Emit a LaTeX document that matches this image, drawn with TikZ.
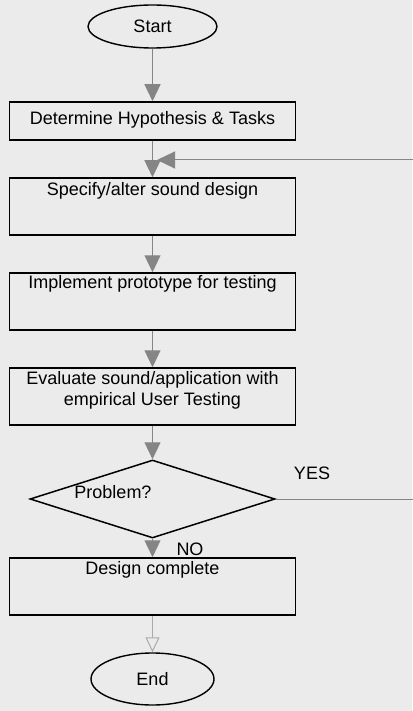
\documentclass[tikz,border=0pt]{standalone}
\usepackage{fontspec}
\setmainfont{Liberation Sans}
\usetikzlibrary{arrows.meta,shapes.geometric}
\definecolor{paper}{HTML}{EBEBEB}
\definecolor{flow}{HTML}{858585}
\begin{document}
\begin{tikzpicture}[x=1pt,y=-1pt,
  font=\fontsize{18}{21}\selectfont,
  box/.style={draw=black,line width=1.5pt,fill=paper,minimum width=286pt,inner sep=0pt},
  term/.style={ellipse,draw=black,line width=1.4pt,fill=paper,inner sep=0pt},
  decision/.style={diamond,draw=black,line width=1.5pt,fill=paper,inner sep=0pt,
    minimum width=245pt,minimum height=78pt,aspect=3.14},
  lbl/.style={inner sep=0pt,align=center},
  flowarrow/.style={draw=flow,line width=1.2pt,
    -{Triangle[width=16pt,length=17pt,fill=flow]}},
  lastarrow/.style={draw=flow!70,line width=1pt,
    -{Triangle[open,width=14pt,length=15pt,fill=paper]}}]

% page
\useasboundingbox (0,0) rectangle (412,711);
\fill[paper] (0,0) rectangle (412,711);

% terminals
\node[term,minimum width=129pt,minimum height=43pt] (start) at (152.5,26.5) {Start};
\node[term,minimum width=123pt,minimum height=52pt] (end) at (152.5,679) {End};

% process boxes
\node[box,minimum height=38pt] (hyp) at (152.5,121) {};
\node[lbl] (hypT) at (152.5,120) {Determine Hypothesis \& Tasks};

\node[box,minimum height=57pt] (spec) at (152.5,206.5) {};
\node[lbl] (specT) at (152.5,191) {Specify/alter sound design};

\node[box,minimum height=57pt] (impl) at (152.5,301.5) {};
\node[lbl] (implT) at (152.5,284) {Implement prototype for testing};

\node[box,minimum height=57pt] (eval) at (152.5,396.5) {};
\node[lbl] (evalT) at (152.5,390) {Evaluate sound/application with\\empirical User Testing};

\node[decision] (prob) at (152.5,499) {};
\node[lbl] (probT) at (113,492) {Problem?};

\node[box,minimum height=57pt] (done) at (152.5,586.5) {};
\node[lbl] (doneT) at (152.5,570) {Design complete};

% branch labels
\node[lbl] (yes) at (312,473) {YES};
\node[lbl] (no) at (190,549) {NO};

% main flow
\draw[flowarrow] (start.south) -- (hyp.north);
\draw[flowarrow] (hyp.south) -- (spec.north);
\draw[flowarrow] (spec.south) -- (impl.north);
\draw[flowarrow] (impl.south) -- (eval.north);
\draw[flowarrow] (eval.south) -- (prob.north);
\draw[flowarrow] (prob.south) -- (done.north);
\draw[lastarrow] (done.south) -- (end.north);

% feedback loop back into the design step
\coordinate (loopIn) at (157,160);
\coordinate (loopR) at (440,499);
\draw[draw=flow,line width=1pt,-{Triangle[width=17pt,length=18pt,fill=flow]}]
  (prob.east) -- (loopR) |- (loopIn);
\end{tikzpicture}
\end{document}
